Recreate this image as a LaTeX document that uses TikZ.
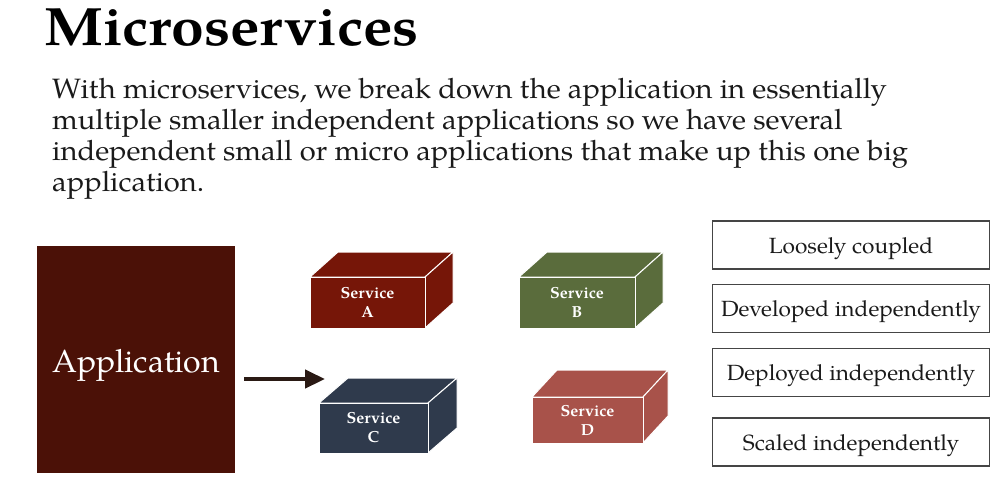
\documentclass[tikz,border=0pt]{standalone}
\usepackage{fontspec}
\setmainfont{TeX Gyre Pagella}
\usetikzlibrary{arrows.meta}

\definecolor{appred}{HTML}{4B1107}
\definecolor{svcA}{HTML}{761608}
\definecolor{svcB}{HTML}{5A6C3C}
\definecolor{svcC}{HTML}{2F3A4C}
\definecolor{svcD}{HTML}{A8524A}
\definecolor{inkdark}{HTML}{1A1A1A}
\definecolor{boxline}{HTML}{454545}
\definecolor{arrowdark}{HTML}{2A1A14}

\tikzset{
  cubeface/.style={draw=white, line width=1pt, line join=miter},
  cubefront/.style={rectangle, cubeface, inner sep=0pt, text=white,
    font=\fontsize{16}{19}\selectfont\bfseries, align=center},
  featurebox/.style={rectangle, draw=boxline, line width=1.3pt, inner sep=0pt,
    minimum width=277pt, minimum height=48pt, text=inkdark,
    text height=16pt, text depth=0pt,
    font=\addfontfeatures{FakeStretch=1.03}\fontsize{22}{26}\selectfont},
  flowarrow/.style={draw=arrowdark, line width=4.5pt,
    -{Triangle[length=20pt,width=18pt]}},
}

% #1 name, #2 centre x, #3 centre y, #4 width, #5 height, #6 depth x, #7 depth y,
% #8 colour, #9 letter
\newcommand{\servicecube}[9]{%
  \fill[#8, cubeface] ([xshift=-#4pt/2,yshift=#5pt/2]#2,#3)
     -- ++(#6,-#7) -- ++(#4,0) -- ++(-#6,#7) -- cycle;
  \fill[#8, cubeface] ([xshift=#4pt/2,yshift=#5pt/2]#2,#3)
     -- ++(#6,-#7) -- ++(0,#5) -- ++(-#6,#7) -- cycle;
  \node[cubefront, fill=#8, minimum width=#4pt, minimum height=#5pt]
     (#1) at (#2,#3) {Service\\#9};
}

\begin{document}
\begin{tikzpicture}[x=1pt, y=-1pt]
  \useasboundingbox (0,0) rectangle (1001,496);

  % heading and introduction
  \node[anchor=base west, inner sep=0pt, text=black,
        font=\addfontfeatures{FakeStretch=1.09}\fontsize{54}{60}\selectfont\bfseries]
    (title) at (44,45) {Microservices};
  \node[anchor=north west, inner sep=0pt, text=inkdark, align=left,
        font=\addfontfeatures{FakeStretch=1.04}\fontsize{28}{31}\selectfont]
    (intro) at (52,78)
    {With microservices, we break down the application in essentially\\
     multiple smaller independent applications so we have several\\
     independent small or micro applications that make up this one big\\
     application.};

  % the monolith
  \node[rectangle, fill=appred, inner sep=0pt, minimum width=198pt,
        minimum height=227pt, text=white, text height=25pt, text depth=0pt,
        font=\fontsize{32}{38}\selectfont]
    (app) at (136,359.5) {Application};

  % the services
  \servicecube{svca}{367.5}{302.5}{115}{51}{28}{25}{svcA}{A}
  \servicecube{svcb}{577}{302.5}{116}{51}{28}{25}{svcB}{B}
  \servicecube{svcc}{373.5}{428}{109}{50}{29}{25}{svcC}{C}
  \servicecube{svcd}{587.5}{420}{111}{46}{25}{27}{svcD}{D}

  \coordinate (arrowtip) at (325,379);
  \draw[flowarrow, shorten <=9pt] (app.east |- arrowtip) -- (arrowtip);

  % properties of microservices
  \node[featurebox] (f1) at (851,245)   {Loosely coupled};
  \node[featurebox] (f2) at (851,308.5) {Developed independently};
  \node[featurebox] (f3) at (851,372.5) {Deployed independently};
  \node[featurebox] (f4) at (851,442)   {Scaled independently};
\end{tikzpicture}
\end{document}
